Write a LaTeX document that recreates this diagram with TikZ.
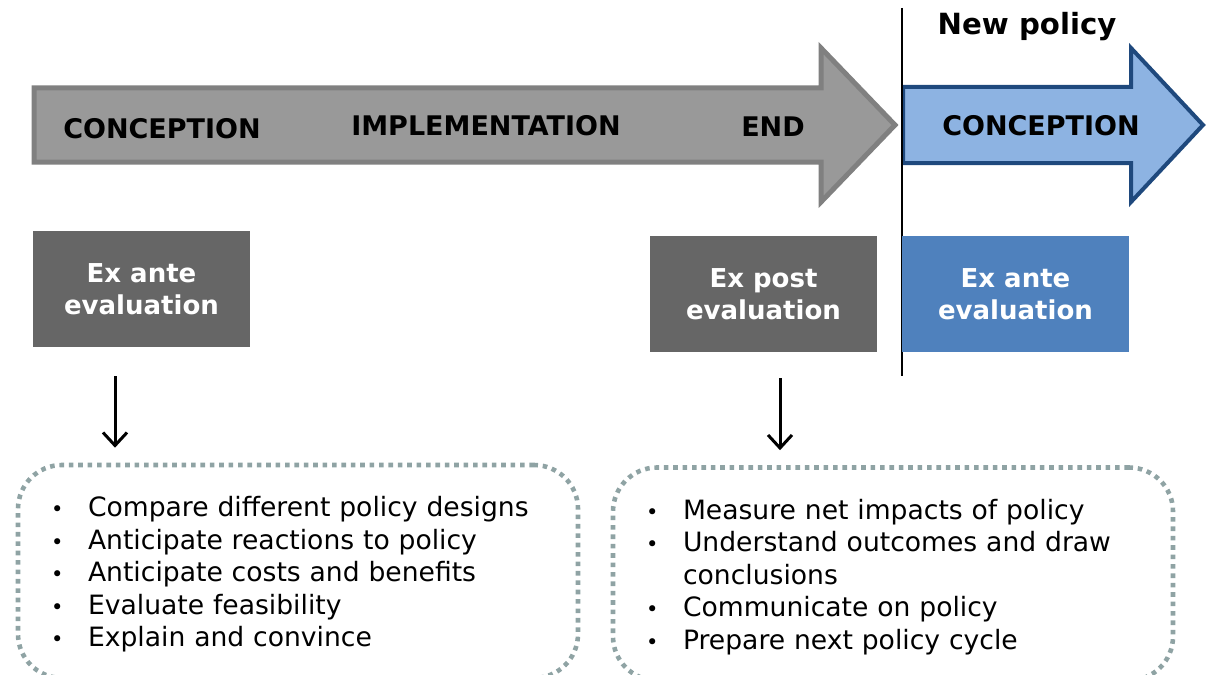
\documentclass[tikz,border=0pt]{standalone}
\usepackage{fontspec}
\setmainfont{DejaVu Sans}
\usetikzlibrary{arrows.meta, positioning}
\definecolor{phasegray}{HTML}{999999}
\definecolor{phaseedge}{HTML}{808080}
\definecolor{newfill}{HTML}{8DB3E2}
\definecolor{newedge}{HTML}{1F497D}
\definecolor{evalgray}{HTML}{666666}
\definecolor{evalblue}{HTML}{4F81BD}
\definecolor{dotgray}{HTML}{8FA3A4}
\newcommand\pitem{\makebox[19pt][l]{\hspace{0.5pt}\fontsize{10.5}{10}\selectfont •}}

\begin{document}
\begin{tikzpicture}[x=0.5pt, y=-0.5pt,
		phase/.style={font=\fontsize{13.5}{15}\selectfont\bfseries},
		evalbox/.style={text=white, font=\fontsize{13}{16}\selectfont\bfseries, align=center, minimum height=58pt, inner sep=0pt},
		goals/.style={draw=dotgray, line width=2.3pt, dash pattern=on 2.3pt off 2.4pt, rounded corners=22pt, align=left, text width=248pt, inner xsep=16pt, minimum height=106.5pt, font=\fontsize{13.3}{16.2}\selectfont},
		down/.style={-{Straight Barb[length=6.5pt,width=12pt]}, line width=1.5pt}]
		\useasboundingbox (0,0) rectangle (1208,674);
		% timeline arrows
		\draw [phaseedge, fill=phasegray, line width=2.5pt] (34,88) -- (821,88) -- (821,48) -- (895,125) -- (821,202) -- (821,162) -- (34,162) -- cycle;
		\draw [newedge, fill=newfill, line width=2pt] (903,87) -- (1131,87) -- (1131,48) -- (1203,125) -- (1131,202) -- (1131,163) -- (903,163) -- cycle;
		\node (conc) [phase] at (162,129) {CONCEPTION};
		\node (impl) [phase] at (486,126) {IMPLEMENTATION};
		\node (end) [phase] at (773,127) {END};
		\node (newconc) [phase] at (1041,126) {CONCEPTION};
		\node (newpol) [font=\fontsize{14.6}{16}\selectfont\bfseries] at (1027,27) {New policy};
		% split between policies
		\coordinate (splittop) at (902,8);
		\coordinate (splitbot) at (902,376);
		\draw [line width=1pt] (splittop) -- (splitbot);
		% evaluation boxes
		\node (exL) [evalbox, fill=evalgray, minimum width=108.5pt] at (141.5,289) {Ex ante\\evaluation};
		\node (expost) [evalbox, fill=evalgray, minimum width=113.5pt] at (763.5,294) {Ex post\\evaluation};
		\node (exR) [evalbox, fill=evalblue, minimum width=113.5pt] at (1015.5,294) {Ex ante\\evaluation};
		% purposes
		\node (listL) [goals] at (298,571.5) {\rule{0pt}{13pt}\pitem Compare different policy designs\\
			\pitem Anticipate reactions to policy\\
			\pitem Anticipate costs and benefits\\
			\pitem Evaluate feasibility\\
			\pitem Explain and convince};
		\node (listR) [goals] at (893,574) {\rule{0pt}{13pt}\pitem Measure net impacts of policy\\
			\pitem Understand outcomes and draw\\
			\hspace*{19pt}conclusions\\
			\pitem Communicate on policy\\
			\pitem Prepare next policy cycle};
		\draw [down, shorten <=14.5pt, shorten >=7.5pt] ([xshift=-13.25pt]exL.south) -- ([xshift=-13.25pt]exL.south |- listL.north);
		\draw [down, shorten <=13pt, shorten >=7.5pt] ([xshift=8.25pt]expost.south) -- ([xshift=8.25pt]expost.south |- listR.north);
	\end{tikzpicture}
\end{document}
